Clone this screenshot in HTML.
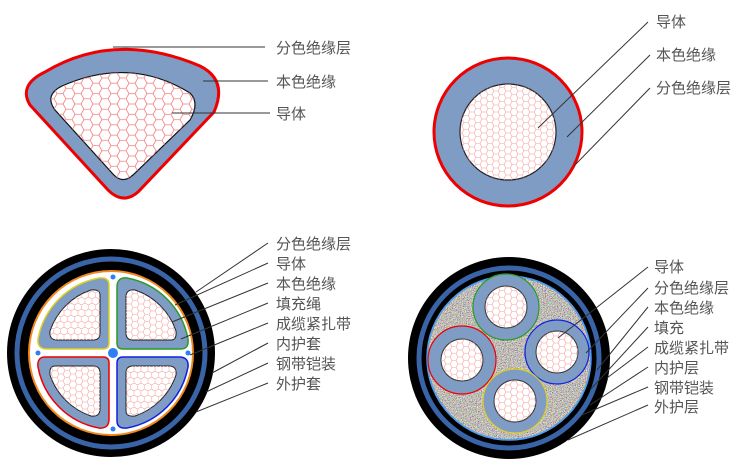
<!DOCTYPE html>
<html><head><meta charset="utf-8"><style>
body{margin:0;background:#fff;}
svg{display:block}
text{font-family:"Liberation Sans","Noto Sans CJK SC",sans-serif;font-size:15px;fill:#555;}
</style></head><body>
<svg width="750" height="463" viewBox="0 0 750 463" xmlns="http://www.w3.org/2000/svg">
<defs>
<pattern id="hex" width="18" height="10.4" patternUnits="userSpaceOnUse">
<path d="M0,5.2 L3,0 L9,0 L12,5.2 L9,10.4 L3,10.4 Z M12,5.2 L18,5.2" fill="none" stroke="#f08080" stroke-width="0.8"/>
</pattern>
<pattern id="hexs" width="12" height="7" patternUnits="userSpaceOnUse">
<path d="M0,3.5 L2,0 L6,0 L8,3.5 L6,7 L2,7 Z M8,3.5 L12,3.5" fill="none" stroke="#f4a0a0" stroke-width="0.6"/>
</pattern>
<clipPath id="fc"><circle cx="509" cy="358" r="81"/></clipPath>
<filter id="noise" x="0" y="0" width="100%" height="100%">
<feTurbulence type="fractalNoise" baseFrequency="1.2" numOctaves="1" seed="3"/>
<feColorMatrix type="matrix" values="2.2 0 0 0 -0.55  0 2.2 0 0 -0.57  0 0 2.2 0 -0.6  0 0 0 0 1"/>
</filter>
<path id="qo" d="M4,-10 Q4,-4 10,-4 L68,-4 Q76,-4 75,-14 A76 76 0 0 0 14,-75 Q4,-76 4,-66 Z"/>
<path id="qi" d="M13,-20 Q13,-13 20,-13 L58,-13 Q64,-13 63,-22 A65 65 0 0 0 22,-63 Q13,-64 13,-56 Z"/>
<g id="quad">
<use href="#qo" fill="#7f9cc4"/>
<use href="#qi" fill="#fff" stroke="#222" stroke-width="1"/>
<use href="#qi" fill="url(#hexs)"/>
</g>
</defs>

<path d="M30,105 Q18,85 45,72 Q115,30 200,66 Q228,80 214,112 L138,192 Q123,205 108,190 Z" fill="#7f9cc4" stroke="#e00" stroke-width="3"/>
<path d="M55,110 Q44,95 62,86 Q130,56 190,93 Q200,103 190,120 L133,175 Q122,185 112,173 Z" fill="#fff" stroke="#111" stroke-width="1.2"/>
<path d="M55,110 Q44,95 62,86 Q130,56 190,93 Q200,103 190,120 L133,175 Q122,185 112,173 Z" fill="url(#hex)"/>
<line x1="113" y1="47" x2="265" y2="47" stroke="#333" stroke-width="1"/>
<line x1="203" y1="81" x2="268" y2="81" stroke="#333" stroke-width="1"/>
<line x1="172" y1="113" x2="270" y2="113" stroke="#333" stroke-width="1"/>
<text x="276" y="53">分色绝缘层</text>
<text x="276" y="87">本色绝缘</text>
<text x="276" y="119">导体</text>

<circle cx="508" cy="132" r="74" fill="#7f9cc4" stroke="#e00" stroke-width="3"/>
<circle cx="508" cy="132" r="48" fill="#fff" stroke="#222" stroke-width="1.2"/>
<circle cx="508" cy="132" r="48" fill="url(#hexs)"/>
<line x1="538" y1="128" x2="648" y2="22" stroke="#333"/>
<line x1="567" y1="137" x2="650" y2="55" stroke="#333"/>
<line x1="574" y1="166" x2="650" y2="88" stroke="#333"/>
<text x="656" y="27">导体</text>
<text x="656" y="60">本色绝缘</text>
<text x="656" y="93">分色绝缘层</text>

<circle cx="111" cy="353" r="104" fill="#000"/>
<circle cx="111" cy="353" r="94" fill="none" stroke="#3a64a8" stroke-width="5"/>
<circle cx="111" cy="353" r="82" fill="#fff" stroke="#f08a20" stroke-width="2"/>
<g transform="translate(113,353)">
<use href="#quad"/><use href="#qo" fill="none" stroke="#2a9a2a" stroke-width="1.5"/>
<g transform="rotate(90)"><use href="#quad"/><use href="#qo" fill="none" stroke="#1020e0" stroke-width="1.5"/></g>
<g transform="rotate(180)"><use href="#quad"/><use href="#qo" fill="none" stroke="#e00" stroke-width="1.5"/></g>
<g transform="rotate(270)"><use href="#quad"/><use href="#qo" fill="none" stroke="#e0d020" stroke-width="1.5"/></g>
</g>
<circle cx="113" cy="353" r="5" fill="#2f7ff0"/>
<circle cx="113" cy="277" r="2.5" fill="#2f7ff0"/>
<circle cx="38" cy="353" r="2.5" fill="#2f7ff0"/>
<circle cx="188" cy="353" r="2.5" fill="#2f7ff0"/>
<circle cx="113" cy="429" r="2.5" fill="#2f7ff0"/>
<g stroke="#333" stroke-width="1">
<line x1="196" y1="292" x2="268" y2="243"/>
<line x1="175" y1="305" x2="268" y2="263"/>
<line x1="172" y1="322" x2="268" y2="283"/>
<line x1="181" y1="339" x2="268" y2="303"/>
<line x1="190" y1="355" x2="268" y2="323"/>
<line x1="212" y1="373" x2="268" y2="343"/>
<line x1="206" y1="392" x2="268" y2="363"/>
<line x1="196" y1="412" x2="268" y2="383"/>
</g>
<text x="276" y="249">分色绝缘层</text>
<text x="276" y="269">导体</text>
<text x="276" y="289">本色绝缘</text>
<text x="276" y="309">填充绳</text>
<text x="276" y="329">成缆紧扎带</text>
<text x="276" y="349">内护套</text>
<text x="276" y="369">钢带铠装</text>
<text x="276" y="389">外护套</text>

<circle cx="509" cy="358" r="101" fill="#000"/>
<circle cx="509" cy="358" r="90" fill="none" stroke="#3a64a8" stroke-width="5"/>
<circle cx="509" cy="358" r="82" fill="#8a867c" stroke="#4aa0ff" stroke-width="1.5"/>
<g clip-path="url(#fc)"><rect x="428" y="277" width="162" height="162" filter="url(#noise)"/></g>
<g>
<circle cx="506" cy="307" r="33" fill="#7f9cc4" stroke="#2a9a2a" stroke-width="1.2"/>
<circle cx="506" cy="307" r="21" fill="#fff" stroke="#333"/><circle cx="506" cy="307" r="21" fill="url(#hexs)"/>
<circle cx="462" cy="360" r="34" fill="#7f9cc4" stroke="#e00" stroke-width="1.2"/>
<circle cx="462" cy="360" r="21" fill="#fff" stroke="#333"/><circle cx="462" cy="360" r="21" fill="url(#hexs)"/>
<circle cx="557" cy="352" r="32" fill="#7f9cc4" stroke="#1020e0" stroke-width="1.2"/>
<circle cx="557" cy="352" r="21" fill="#fff" stroke="#333"/><circle cx="557" cy="352" r="21" fill="url(#hexs)"/>
<circle cx="515" cy="401" r="32" fill="#7f9cc4" stroke="#e0d020" stroke-width="1.2"/>
<circle cx="515" cy="401" r="21" fill="#fff" stroke="#333"/><circle cx="515" cy="401" r="21" fill="url(#hexs)"/>
</g>
<g stroke="#333" stroke-width="1">
<line x1="558" y1="338" x2="648" y2="267"/>
<line x1="586" y1="353" x2="648" y2="288"/>
<line x1="597" y1="370" x2="648" y2="307"/>
<line x1="590" y1="390" x2="648" y2="327"/>
<line x1="607" y1="378" x2="648" y2="347"/>
<line x1="590" y1="405" x2="648" y2="367"/>
<line x1="582" y1="415" x2="648" y2="387"/>
<line x1="568" y1="440" x2="648" y2="405"/>
</g>
<text x="654" y="272">导体</text>
<text x="654" y="293">分色绝缘层</text>
<text x="654" y="313">本色绝缘</text>
<text x="654" y="333">填充</text>
<text x="654" y="353">成缆紧扎带</text>
<text x="654" y="373">内护层</text>
<text x="654" y="393">钢带铠装</text>
<text x="654" y="412">外护层</text>
</svg>
</body></html>
